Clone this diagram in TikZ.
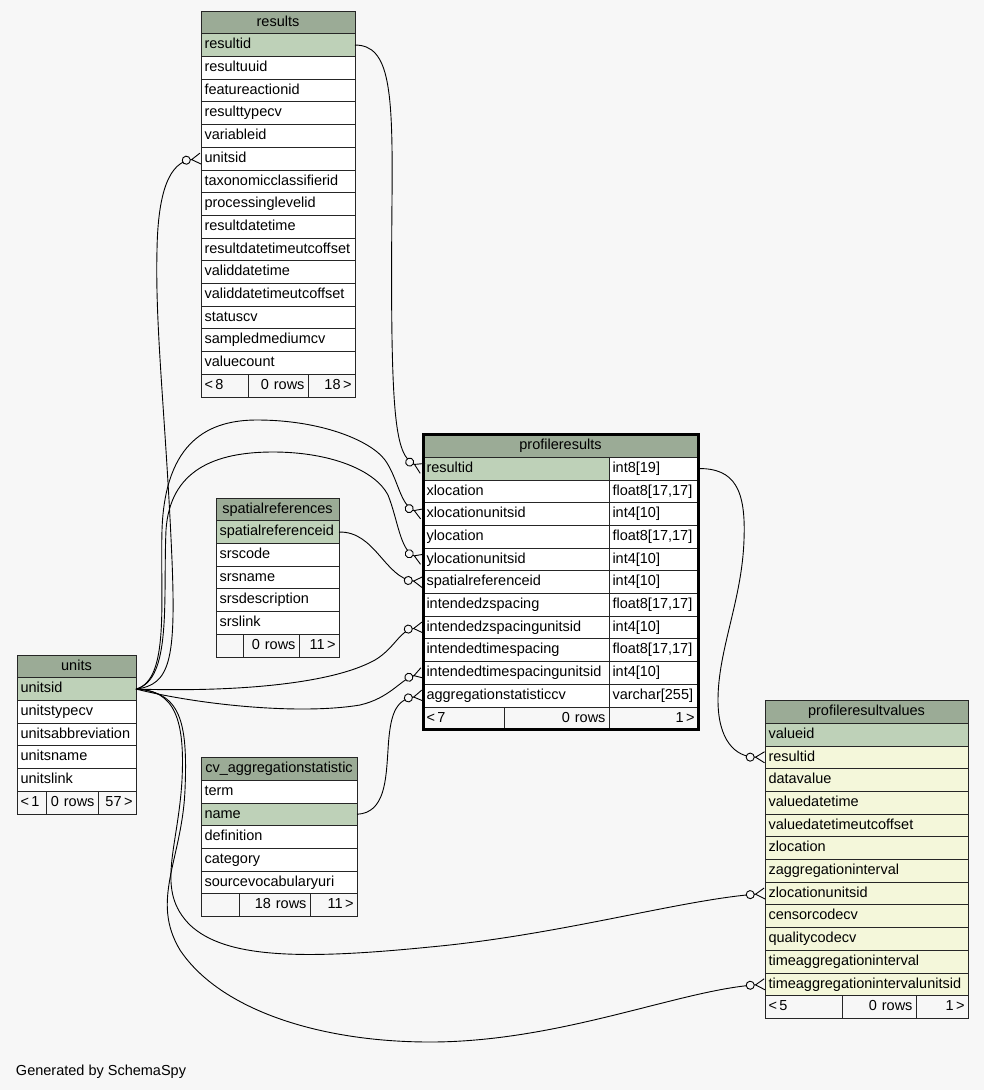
\documentclass[tikz,border=0pt]{standalone}
\usepackage{fontspec}
\setmainfont{Liberation Sans}
\usetikzlibrary{arrows.meta}
\definecolor{hdrgreen}{HTML}{9BAB96}
\definecolor{pkgreen}{HTML}{BED1B8}
\definecolor{rowyellow}{HTML}{F4F7DA}
\definecolor{bggray}{HTML}{F7F7F7}
\newcommand{\tabfont}{\fontsize{14.5}{17}\selectfont}

\begin{document}
\begin{tikzpicture}[x=1pt, y=-1pt]
\tikzset{ outer sep=0pt,
  cell/.style={draw=black!85, line width=0.8pt, fill=white, anchor=north west, inner xsep=3.5pt, inner ysep=0pt,
    minimum height=22.7pt, text height=10.5pt, text depth=3pt, align=left, text width=#1, font=\tabfont},
  hdr/.style={cell=#1, fill=hdrgreen, align=center},
  pk/.style={cell=#1, fill=pkgreen},
  val/.style={cell=#1, fill=rowyellow},
  foot/.style={cell=#1, fill=bggray, align=right},
  fk/.style={line width=0.9pt, -{Circle[open,length=9pt,fill=bggray] Straight Barb[reversed,length=9pt,width=11pt]}},
}

\fill [bggray] (0,0) rectangle (984,1090);
%\draw [lightgray, dashed] (0,0) grid [step=50] (984,1090);

\node [hdr=147] (R) at (201,11.0) {results};
\node [pk=147]   (R-resultid) at (201,33.7) {resultid};
\node [cell=147] (R-resultuuid) at (201,56.4) {resultuuid};
\node [cell=147] (R-featureactionid) at (201,79.1) {featureactionid};
\node [cell=147] (R-resulttypecv) at (201,101.8) {resulttypecv};
\node [cell=147] (R-variableid) at (201,124.5) {variableid};
\node [cell=147] (R-unitsid) at (201,147.2) {unitsid};
\node [cell=147] (R-taxonomicclassifierid) at (201,169.9) {taxonomicclassifierid};
\node [cell=147] (R-processinglevelid) at (201,192.6) {processinglevelid};
\node [cell=147] (R-resultdatetime) at (201,215.3) {resultdatetime};
\node [cell=147] (R-resultdatetimeutcoffset) at (201,238.0) {resultdatetimeutcoffset};
\node [cell=147] (R-validdatetime) at (201,260.7) {validdatetime};
\node [cell=147] (R-validdatetimeutcoffset) at (201,283.4) {validdatetimeutcoffset};
\node [cell=147] (R-statuscv) at (201,306.1) {statuscv};
\node [cell=147] (R-sampledmediumcv) at (201,328.8) {sampledmediumcv};
\node [cell=147] (R-valuecount) at (201,351.5) {valuecount};
\node [foot=40, align=left] (R-prev) at (201,374.2) {<\,8};
\node [foot=53] (R-rows) at (248,374.2) {0 rows};
\node [foot=40] (R-next) at (308,374.2) {18\,>};

\node [hdr=268] (P) at (423,434.5) {profileresults};
\node [pk=179]  (P-resultid) at (423,457.2) {resultid};
\node [cell=82] (P-resultid-t) at (609,457.2) {int8[19]};
\node [cell=179] (P-xlocation) at (423,479.9) {xlocation};
\node [cell=82]  (P-xlocation-t) at (609,479.9) {float8[17,17]};
\node [cell=179] (P-xlocationunitsid) at (423,502.6) {xlocationunitsid};
\node [cell=82]  (P-xlocationunitsid-t) at (609,502.6) {int4[10]};
\node [cell=179] (P-ylocation) at (423,525.3) {ylocation};
\node [cell=82]  (P-ylocation-t) at (609,525.3) {float8[17,17]};
\node [cell=179] (P-ylocationunitsid) at (423,548.0) {ylocationunitsid};
\node [cell=82]  (P-ylocationunitsid-t) at (609,548.0) {int4[10]};
\node [cell=179] (P-spatialreferenceid) at (423,570.7) {spatialreferenceid};
\node [cell=82]  (P-spatialreferenceid-t) at (609,570.7) {int4[10]};
\node [cell=179] (P-intendedzspacing) at (423,593.4) {intendedzspacing};
\node [cell=82]  (P-intendedzspacing-t) at (609,593.4) {float8[17,17]};
\node [cell=179] (P-intendedzspacingunitsid) at (423,616.1) {intendedzspacingunitsid};
\node [cell=82]  (P-intendedzspacingunitsid-t) at (609,616.1) {int4[10]};
\node [cell=179] (P-intendedtimespacing) at (423,638.8) {intendedtimespacing};
\node [cell=82]  (P-intendedtimespacing-t) at (609,638.8) {float8[17,17]};
\node [cell=179] (P-intendedtimespacingunitsid) at (423,661.5) {intendedtimespacingunitsid};
\node [cell=82]  (P-intendedtimespacingunitsid-t) at (609,661.5) {int4[10]};
\node [cell=179] (P-aggregationstatisticcv) at (423,684.2) {aggregationstatisticcv};
\node [cell=82]  (P-aggregationstatisticcv-t) at (609,684.2) {varchar[255]};
\node [foot=74, align=left] (P-prev) at (423,706.9) {<\,7};
\node [foot=98] (P-rows) at (504,706.9) {0 rows};
\node [foot=82] (P-next) at (609,706.9) {1\,>};
\draw [line width=3pt] (P.north west) rectangle (P-next.south east);

\node [hdr=112] (U) at (17,655.0) {units};
\node [pk=112]   (U-unitsid) at (17,677.7) {unitsid};
\node [cell=112] (U-unitstypecv) at (17,700.4) {unitstypecv};
\node [cell=112] (U-unitsabbreviation) at (17,723.1) {unitsabbreviation};
\node [cell=112] (U-unitsname) at (17,745.8) {unitsname};
\node [cell=112] (U-unitslink) at (17,768.5) {unitslink};
\node [foot=22, align=left] (U-prev) at (17,791.2) {<\,1};
\node [foot=45] (U-rows) at (46,791.2) {0 rows};
\node [foot=31] (U-next) at (98,791.2) {57\,>};

\node [hdr=116] (S) at (216,498.0) {spatialreferences};
\node [pk=116]   (S-spatialreferenceid) at (216,520.7) {spatialreferenceid};
\node [cell=116] (S-srscode) at (216,543.4) {srscode};
\node [cell=116] (S-srsname) at (216,566.1) {srsname};
\node [cell=116] (S-srsdescription) at (216,588.8) {srsdescription};
\node [cell=116] (S-srslink) at (216,611.5) {srslink};
\node [foot=20] (S-prev) at (216,634.2) {};
\node [foot=49] (S-rows) at (243,634.2) {0 rows};
\node [foot=33] (S-next) at (299,634.2) {11\,>};

\node [hdr=149] (C) at (201,757.5) {cv\_aggregationstatistic};
\node [cell=149] (C-term) at (201,780.2) {term};
\node [pk=149]   (C-name) at (201,802.9) {name};
\node [cell=149] (C-definition) at (201,825.6) {definition};
\node [cell=149] (C-category) at (201,848.3) {category};
\node [cell=149] (C-sourcevocabularyuri) at (201,871.0) {sourcevocabularyuri};
\node [foot=31] (C-prev) at (201,893.7) {};
\node [foot=64] (C-rows) at (239,893.7) {18 rows};
\node [foot=40] (C-next) at (310,893.7) {11\,>};

\node [hdr=196] (V) at (765,700.5) {profileresultvalues};
\node [pk=196]  (V-valueid) at (765,723.2) {valueid};
\node [val=196] (V-resultid) at (765,745.9) {resultid};
\node [val=196] (V-datavalue) at (765,768.6) {datavalue};
\node [val=196] (V-valuedatetime) at (765,791.3) {valuedatetime};
\node [val=196] (V-valuedatetimeutcoffset) at (765,814.0) {valuedatetimeutcoffset};
\node [val=196] (V-zlocation) at (765,836.7) {zlocation};
\node [val=196] (V-zaggregationinterval) at (765,859.4) {zaggregationinterval};
\node [val=196] (V-zlocationunitsid) at (765,882.1) {zlocationunitsid};
\node [val=196] (V-censorcodecv) at (765,904.8) {censorcodecv};
\node [val=196] (V-qualitycodecv) at (765,927.5) {qualitycodecv};
\node [val=196] (V-timeaggregationinterval) at (765,950.2) {timeaggregationinterval};
\node [val=196] (V-timeaggregationintervalunitsid) at (765,972.9) {timeaggregationintervalunitsid};
\node [foot=70, align=left] (V-prev) at (765,995.6) {<\,5};
\node [foot=67] (V-rows) at (842,995.6) {0 rows};
\node [foot=45] (V-next) at (916,995.6) {1\,>};

\draw [fk] (R-resultid.east) .. controls (390,45) and (393,90) .. (392,200) .. controls (390,420) and (395,455) .. (P-resultid.west);
\draw [fk] (U-unitsid.east) .. controls (170,685) and (176,660) .. (172,560) .. controls (166,420) and (155,330) .. (157,250) .. controls (158,190) and (170,162) .. (R-unitsid.west);
\draw [fk] (U-unitsid.east) .. controls (170,680) and (160,600) .. (162,530) .. controls (165,440) and (210,420) .. (257,420) .. controls (320,420) and (370,440) .. (385,460) .. controls (398,478) and (400,505) .. (P-xlocationunitsid.west);
\draw [fk] (U-unitsid.east) .. controls (172,680) and (163,600) .. (166,530) .. controls (170,470) and (215,452) .. (273,452) .. controls (330,452) and (375,470) .. (388,495) .. controls (398,520) and (400,550) .. (P-ylocationunitsid.west);
\draw [fk] (S-spatialreferenceid.east) .. controls (375,531) and (385,578) .. (P-spatialreferenceid.west);
\draw [fk] (U-unitsid.east) .. controls (230,692) and (330,685) .. (375,660) .. controls (395,648) and (400,630) .. (P-intendedzspacingunitsid.west);
\draw [fk] (U-unitsid.east) .. controls (200,705) and (300,715) .. (360,705) .. controls (390,698) and (400,680) .. (P-intendedtimespacingunitsid.west);
\draw [fk] (C-name.east) .. controls (385,813) and (386,780) .. (388,750) .. controls (390,715) and (395,700) .. (P-aggregationstatisticcv.west);
\draw [fk] (P-resultid-t.east) .. controls (735,468) and (746,490) .. (744,540) .. controls (742,600) and (718,650) .. (718,700) .. controls (718,740) and (735,757) .. (V-resultid.west);
\draw [fk] (U-unitsid.east) .. controls (175,690) and (185,720) .. (182,780) .. controls (178,850) and (155,890) .. (190,925) .. controls (225,958) and (300,960) .. (430,947) .. controls (560,935) and (680,900) .. (V-zlocationunitsid.west);
\draw [fk] (U-unitsid.east) .. controls (180,692) and (188,720) .. (185,790) .. controls (182,860) and (150,900) .. (180,950) .. controls (220,1010) and (320,1042) .. (430,1042) .. controls (560,1042) and (680,990) .. (V-timeaggregationintervalunitsid.west);

\node [anchor=west, inner sep=0pt, font=\tabfont] (gen) at (16,1072) {Generated by SchemaSpy};
\end{tikzpicture}
\end{document}
